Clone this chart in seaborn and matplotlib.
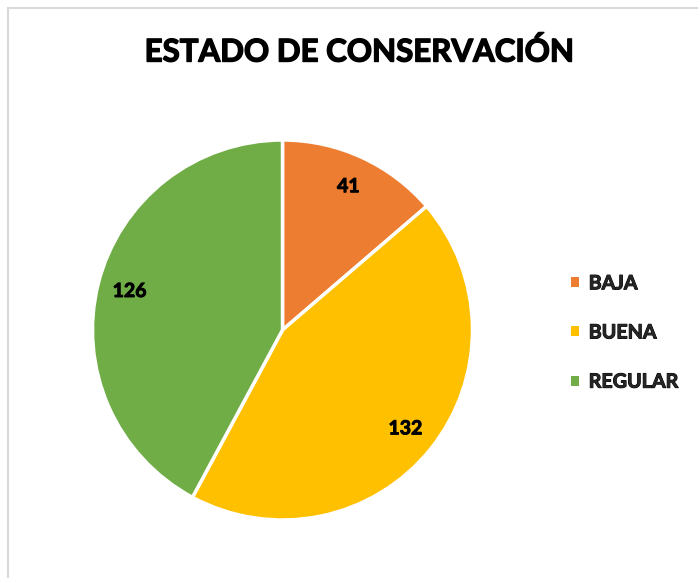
import matplotlib
matplotlib.use("Agg")
import matplotlib.pyplot as plt
import matplotlib.patheffects as pe
import seaborn as sns
from matplotlib.patches import Rectangle
from matplotlib.lines import Line2D

categories = ["BAJA", "BUENA", "REGULAR"]
values = [41, 132, 126]
colors = ["#ED7D31", "#FFC000", "#70AD47"]
title = "ESTADO DE CONSERVACIÓN"

sns.set_theme(style="white")
plt.rcParams['font.family'] = ['Lato', 'DejaVu Sans']

W, H = 698, 578
fig = plt.figure(figsize=(W / 100, H / 100), dpi=100)
fig.patch.set_facecolor("white")
heavy = [pe.withStroke(linewidth=0.7, foreground="black")]

# chart border (light gray)
fig.add_artist(Line2D([8 / W, 8 / W], [0, 1 - 8 / H], color="#D9D9D9", lw=1.5, transform=fig.transFigure))
fig.add_artist(Line2D([8 / W, 1], [1 - 8 / H, 1 - 8 / H], color="#D9D9D9", lw=1.5, transform=fig.transFigure))

cx, cy, r = 282.5, 330, 190
ax = fig.add_axes([(cx - r) / W, (H - cy - r) / H, 2 * r / W, 2 * r / H])
total = sum(values)
wedges, texts, autotexts = ax.pie(
    values, colors=colors, startangle=90, counterclock=False,
    autopct=lambda p: f"{round(p * total / 100):d}", pctdistance=0.83,
    wedgeprops=dict(edgecolor="white", linewidth=2.5), radius=1,
)
for t in autotexts:
    t.set_fontsize(14)
    t.set_fontweight("bold")
    t.set_color("black")
    t.set_path_effects(heavy)
ax.set_xlim(-1, 1)
ax.set_ylim(-1, 1)
ax.set_aspect("equal")
ax.axis("off")

ttl = fig.text(359.5 / W, 1 - 52 / H, title, ha="center", va="center", fontsize=22.5, fontweight="bold", color="black")
ttl.set_path_effects([pe.withStroke(linewidth=1.0, foreground="black")])

handles = [Rectangle((0, 0), 1, 1, facecolor=c, edgecolor="none") for c in colors]
leg = fig.legend(handles, categories, loc="center left", bbox_to_anchor=(553 / W, 1 - 332.5 / H),
                 frameon=False, handlelength=0.41, handleheight=0.41, handletextpad=0.5,
                 labelspacing=1.48, prop=dict(size=14.2, weight="bold"))
for t in leg.get_texts():
    t.set_path_effects(heavy)

fig.savefig("out.png", dpi=100, facecolor="white")
